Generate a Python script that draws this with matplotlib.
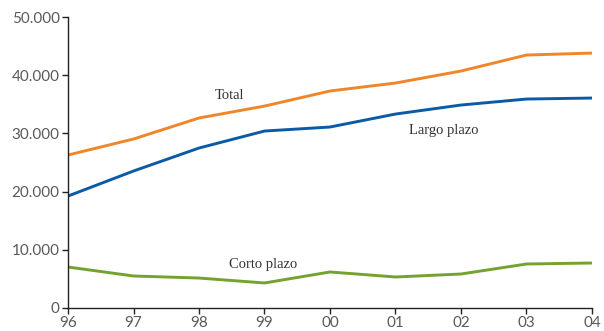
import matplotlib.pyplot as plt
from matplotlib.ticker import FuncFormatter

# deuda externa (millones), 1996-2004
years = ['96', '97', '98', '99', '00', '01', '02', '03', '04']
total = [26290, 29040, 32650, 34700, 37290, 38660, 40720, 43470, 43810]
largo = [19240, 23540, 27490, 30410, 31100, 33330, 34880, 35910, 36080]
corto = [7040, 5500, 5150, 4300, 6190, 5330, 5840, 7560, 7730]

fig = plt.figure(figsize=(6.04, 3.31), dpi=100)
ax = fig.add_axes([0.1126, 0.0695, 0.8675, 0.879])

x = range(len(years))
ax.plot(x, total, color='#F0862A', lw=2.1, solid_capstyle='butt')
ax.plot(x, largo, color='#0B5AA6', lw=2.1, solid_capstyle='butt')
ax.plot(x, corto, color='#74A22F', lw=2.1, solid_capstyle='butt')

lbl = dict(fontsize=10.5, color='#333333', family='Liberation Serif', ha='center', va='center')
ax.text(2.47, 36600, 'Total', **lbl)
ax.text(5.74, 30580, 'Largo plazo', **lbl)
ax.text(2.98, 7560, 'Corto plazo', **lbl)

ax.set_xlim(0, 8)
ax.set_ylim(0, 50000)
ax.set_xticks(list(x))
ax.set_xticklabels(years)
ax.set_yticks(range(0, 50001, 10000))
ax.yaxis.set_major_formatter(FuncFormatter(lambda v, p: f'{int(v):,}'.replace(',', '.')))

for s in ['top', 'right']:
    ax.spines[s].set_visible(False)
for s in ['left', 'bottom']:
    ax.spines[s].set_linewidth(1.0)
    ax.spines[s].set_color('#222222')
ax.tick_params(axis='both', length=4, width=1.0, color='#222222', labelsize=11,
               labelcolor='#5a5a5a', pad=2)
for t in ax.get_xticklabels() + ax.get_yticklabels():
    t.set_family('Lato')

fig.savefig('out.png', dpi=100)
